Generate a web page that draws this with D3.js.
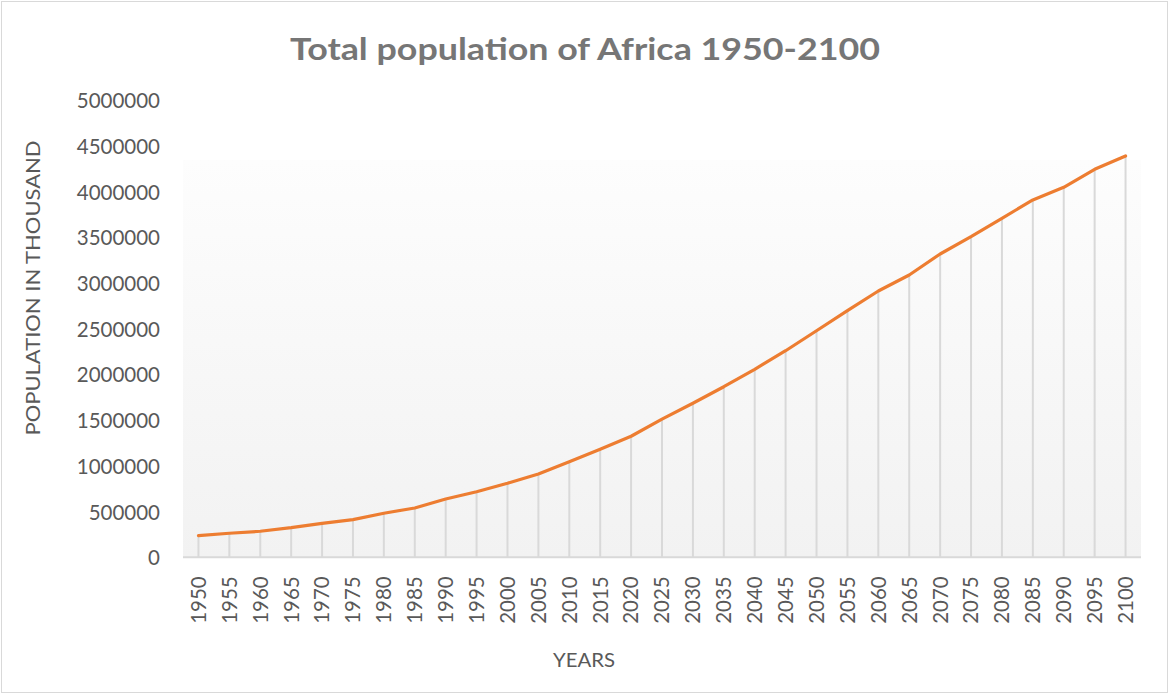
<!DOCTYPE html>
<html>
<head>
<meta charset="utf-8">
<script src="https://cdn.jsdelivr.net/npm/d3@7"></script>
<style>
  html, body { margin: 0; padding: 0; background: #ffffff; }
  svg { display: block; }
  text { font-family: Lato, "Open Sans", "Liberation Sans", sans-serif; }
</style>
</head>
<body>
<svg id="chart" width="1169" height="694"></svg>
<script>
// Africa total population, thousands, 1950-2100
const years = [1950, 1955, 1960, 1965, 1970, 1975, 1980, 1985, 1990, 1995,
               2000, 2005, 2010, 2015, 2020, 2025, 2030, 2035, 2040, 2045,
               2050, 2055, 2060, 2065, 2070, 2075, 2080, 2085, 2090, 2095, 2100];
const population = [237000, 263000, 285000, 324000, 372000, 412000, 482000, 540000, 638000, 718000,
                    810000, 912000, 1046000, 1182000, 1325000, 1512000, 1686000, 1867000, 2058000, 2261000,
                    2480000, 2700000, 2915000, 3090000, 3320000, 3509000, 3711000, 3911000, 4050000, 4247000, 4393000];
const yTicks = [0, 500000, 1000000, 1500000, 2000000, 2500000, 3000000, 3500000, 4000000, 4500000, 5000000];

const chartTitle = "Total population of Africa 1950-2100";
const yTitle = "POPULATION IN THOUSAND";
const xTitle = "YEARS";

const W = 1169, H = 694;
const plot = { left: 183, right: 1141, top: 100.5, bottom: 557.3, fillTop: 160 };

const svg = d3.select("#chart");

// outer chart frame
svg.append("rect")
  .attr("x", 1.5).attr("y", 1.5)
  .attr("width", W - 3).attr("height", H - 3)
  .attr("fill", "#ffffff").attr("stroke", "#d9d9d9").attr("stroke-width", 1);

// plot area gradient
const defs = svg.append("defs");
const grad = defs.append("linearGradient")
  .attr("id", "plotFill").attr("x1", 0).attr("y1", 0).attr("x2", 0).attr("y2", 1);
grad.append("stop").attr("offset", "0%").attr("stop-color", "#fdfdfd");
grad.append("stop").attr("offset", "100%").attr("stop-color", "#f2f2f2");

svg.append("rect")
  .attr("x", plot.left).attr("y", plot.fillTop)
  .attr("width", plot.right - plot.left).attr("height", plot.bottom - plot.fillTop)
  .attr("fill", "url(#plotFill)");

const x = d3.scaleBand().domain(years).range([plot.left, plot.right]).padding(0);
const y = d3.scaleLinear().domain([0, 5000000]).range([plot.bottom, plot.top]);
const cx = d => x(d) + x.bandwidth() / 2;

const data = years.map((yr, i) => ({ year: yr, value: population[i] }));

// drop lines from each point to the category axis
svg.append("g").selectAll("line")
  .data(data).join("line")
  .attr("x1", d => cx(d.year)).attr("x2", d => cx(d.year))
  .attr("y1", d => y(d.value)).attr("y2", plot.bottom)
  .attr("stroke", "#d9d9d9").attr("stroke-width", 2);

// horizontal category axis line
svg.append("line")
  .attr("x1", plot.left).attr("x2", plot.right)
  .attr("y1", plot.bottom).attr("y2", plot.bottom)
  .attr("stroke", "#d9d9d9").attr("stroke-width", 2);

// population line
svg.append("path")
  .datum(data)
  .attr("fill", "none")
  .attr("stroke", "#ed7d31")
  .attr("stroke-width", 3.2)
  .attr("stroke-linejoin", "round")
  .attr("stroke-linecap", "round")
  .attr("d", d3.line().x(d => cx(d.year)).y(d => y(d.value)));

// value axis
const yAxis = svg.append("g")
  .attr("transform", `translate(${plot.left - 23},0)`)
  .call(d3.axisLeft(y).tickValues(yTicks).tickSize(0).tickPadding(0).tickFormat(d3.format("d")));
yAxis.select(".domain").remove();
yAxis.selectAll("text")
  .attr("fill", "#595959").attr("font-size", "20.5px")
  .attr("font-family", "Lato, 'Open Sans', sans-serif")
  .attr("dy", "0.36em");

// category axis, rotated labels
const xAxis = svg.append("g")
  .attr("transform", `translate(0,${plot.bottom})`)
  .call(d3.axisBottom(x).tickSize(0).tickPadding(0).tickFormat(d3.format("d")));
xAxis.select(".domain").remove();
xAxis.selectAll("text")
  .attr("fill", "#595959").attr("font-size", "20.5px")
  .attr("font-family", "Lato, 'Open Sans', sans-serif")
  .attr("text-anchor", "end")
  .attr("transform", "translate(0,19) rotate(-90)")
  .attr("x", 0).attr("y", 0).attr("dy", "0.36em");

// title
svg.append("text")
  .attr("x", 585).attr("y", 60)
  .attr("text-anchor", "middle")
  .attr("font-size", "31px").attr("font-weight", "bold")
  .attr("fill", "#767676")
  .attr("textLength", 590).attr("lengthAdjust", "spacingAndGlyphs")
  .text(chartTitle);

// axis titles
svg.append("text")
  .attr("transform", `translate(40,288) rotate(-90)`)
  .attr("text-anchor", "middle")
  .attr("font-size", "19px")
  .attr("fill", "#595959")
  .attr("textLength", 295).attr("lengthAdjust", "spacingAndGlyphs")
  .text(yTitle);

svg.append("text")
  .attr("x", 584).attr("y", 667)
  .attr("text-anchor", "middle")
  .attr("font-size", "19px")
  .attr("fill", "#595959")
  .attr("textLength", 62).attr("lengthAdjust", "spacingAndGlyphs")
  .text(xTitle);
</script>
</body>
</html>
